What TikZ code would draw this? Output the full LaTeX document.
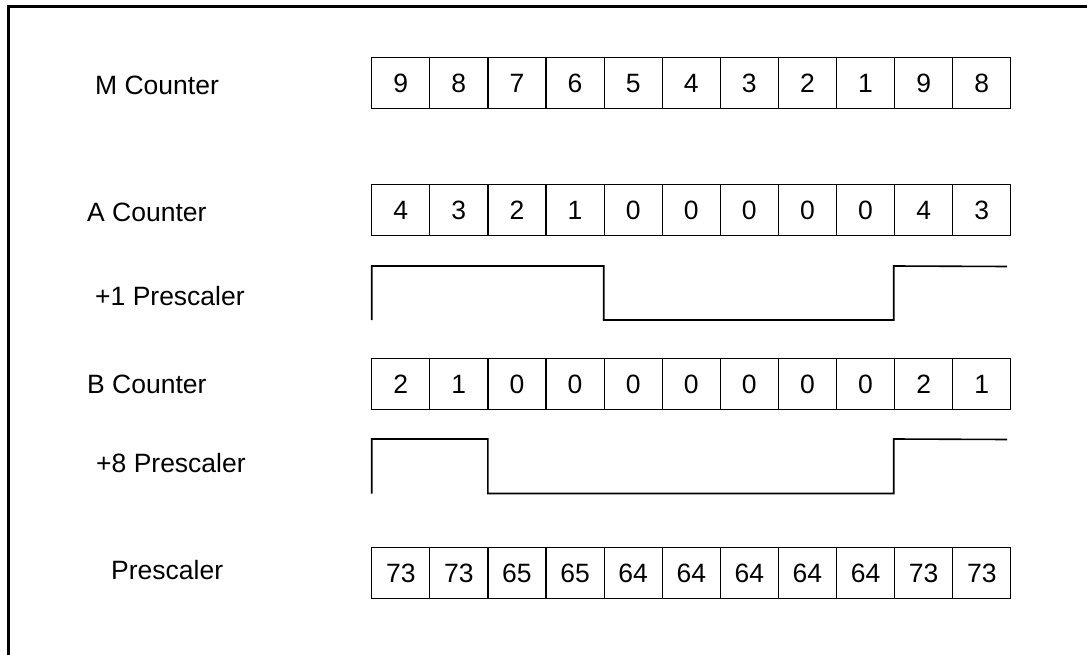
\documentclass[tikz,border=0pt]{standalone}
\usepackage{fontspec}
\setmainfont{Liberation Sans}
\usetikzlibrary{positioning}

\begin{document}
\begin{tikzpicture}[x=1pt,y=-1pt,font=\fontsize{26.5}{31}\selectfont,
  cell/.style={draw,line width=1.2pt,minimum width=58.1pt,minimum height=51pt,inner sep=0pt,
    text height=18.5pt,text depth=0pt},
  rowlabel/.style={anchor=base west,inner sep=0pt},
  wave/.style={line width=1.6pt}]
\useasboundingbox (0,0) rectangle (1087,655);
% frame (only top and left edges are visible)
\draw[line width=3pt] (8.5,700) -- (8.5,6.5) -- (1100,6.5);
% row labels
\node[rowlabel] (lm) at (95,94.3) {M Counter};
\node[rowlabel] (la) at (87,221.5) {A Counter};
\node[rowlabel] (lp1) at (95,305) {+1 Prescaler};
\node[rowlabel] (lb) at (87,393) {B Counter};
\node[rowlabel] (lp8) at (96,472.7) {+8 Prescaler};
\node[rowlabel] (lp) at (111,579.3) {Prescaler};
% counter cells
\foreach \v [count=\i] in {9,8,7,6,5,4,3,2,1,9,8}
  \node[cell] (m\i) at ({371.7+58.1*(\i-0.5)},83.2) {\v};
\foreach \v [count=\i] in {4,3,2,1,0,0,0,0,0,4,3}
  \node[cell] (a\i) at ({371.7+58.1*(\i-0.5)},210) {\v};
\foreach \v [count=\i] in {2,1,0,0,0,0,0,0,0,2,1}
  \node[cell] (b\i) at ({371.7+58.1*(\i-0.5)},383.8) {\v};
\foreach \v [count=\i] in {73,73,65,65,64,64,64,64,64,73,73}
  \node[cell] (p\i) at ({371.7+58.1*(\i-0.5)},572.8) {\v};
% prescaler modulus waveforms
\draw[wave] (371.7,320) -- (371.7,266) -- (603.7,266) -- (603.7,320) -- (893.7,320) -- (893.7,266) -- (1007,266.5);
\draw[wave] (371.7,493.5) -- (371.7,439) -- (487.9,439) -- (487.9,493.5) -- (893.7,493.5) -- (893.7,439) -- (1007,439.5);
\end{tikzpicture}
\end{document}
